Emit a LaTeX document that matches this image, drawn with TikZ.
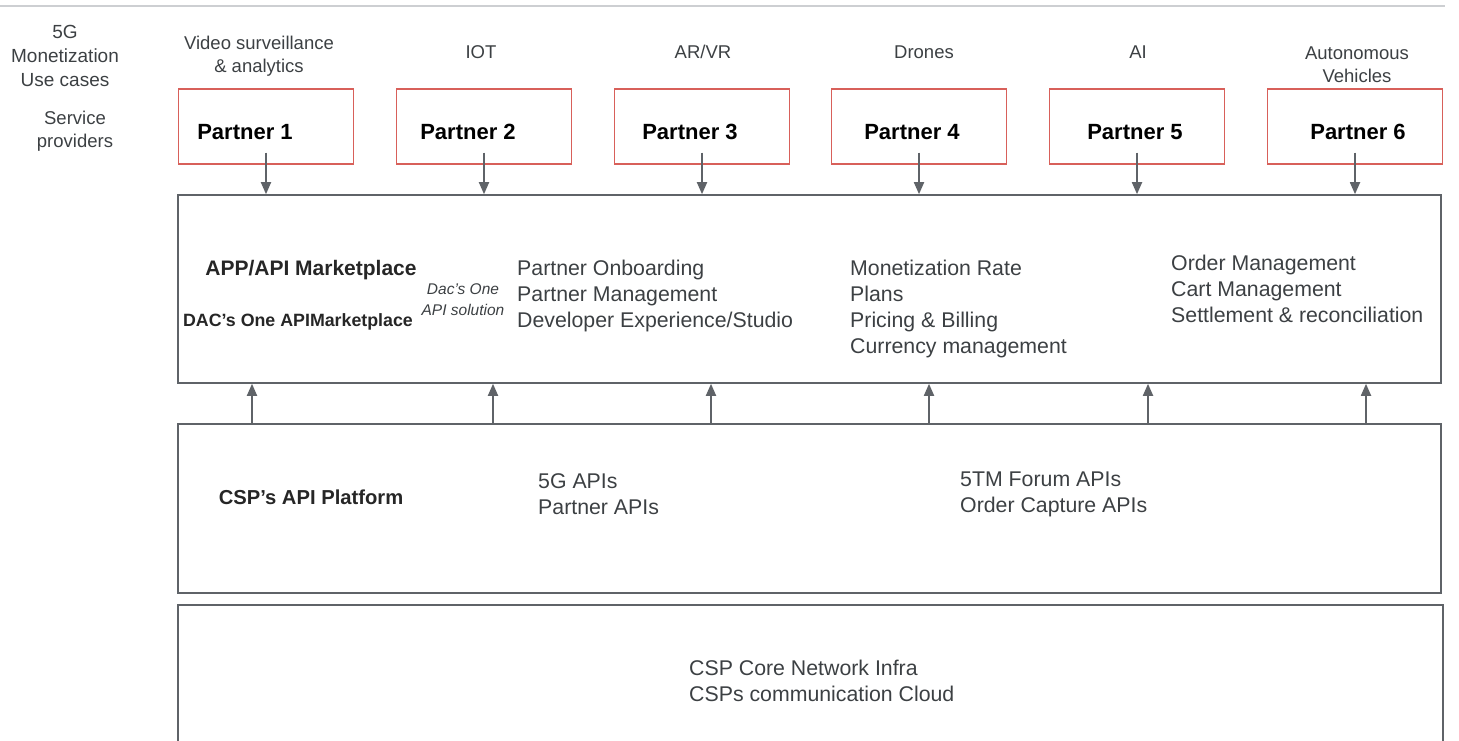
\documentclass[tikz,border=0pt]{standalone}
\usepackage{fontspec}
\setmainfont{Liberation Sans}
\usetikzlibrary{arrows.meta, positioning}

\definecolor{boxgray}{HTML}{5F6368}
\definecolor{txtgray}{HTML}{3C4043}
\definecolor{partnerred}{HTML}{D8605A}
\definecolor{rulegray}{HTML}{CDCFD2}

\begin{document}
\begin{tikzpicture}[x=1pt, y=-1pt,
    pbox/.style={draw=partnerred, line width=1.4pt, minimum width=175pt, minimum height=75pt, inner sep=0pt},
    layer/.style={draw=boxgray, line width=1.6pt, minimum width=1263pt, inner sep=0pt},
    plabel/.style={font=\fontsize{22}{26}\selectfont\bfseries, text=black},
    usecase/.style={font=\fontsize{18.5}{23}\selectfont, text=txtgray, align=center},
    feat/.style={font=\fontsize{21.3}{26}\selectfont, text=txtgray, align=left, anchor=north west, inner sep=0pt},
    title/.style={font=\fontsize{21}{24}\selectfont\bfseries, text=black!85},
    arr/.style={draw=boxgray, line width=1.8pt, -{Triangle[length=12pt, width=10pt]}}]
    \useasboundingbox (0,0) rectangle (1459,741);
    \draw[rulegray, line width=1.5pt] (0,6) -- (1445,6);

    % row labels
    \node[usecase, font=\fontsize{19}{24}\selectfont] (uc) at (65,56) {5G\\Monetization\\Use cases};
    \node[usecase] (sp) at (75,131) {Service\\providers};

    % use cases
    \node[usecase] (u1) at (259,56) {Video surveillance\\\& analytics};
    \node[usecase] (u2) at (481,52) {IOT};
    \node[usecase] (u3) at (703,52) {AR/VR};
    \node[usecase] (u4) at (924,52) {Drones};
    \node[usecase] (u5) at (1138,52) {AI};
    \node[usecase] (u6) at (1357,65) {Autonomous\\Vehicles};

    % partners
    \node[pbox] (p1) at (266,126.5) {};
    \node[pbox] (p2) at (484,126.5) {};
    \node[pbox] (p3) at (702,126.5) {};
    \node[pbox] (p4) at (919,126.5) {};
    \node[pbox] (p5) at (1137,126.5) {};
    \node[pbox] (p6) at (1355,126.5) {};
    \node[plabel] (l1) at (245,132) {Partner 1};
    \node[plabel] (l2) at (468,132) {Partner 2};
    \node[plabel] (l3) at (690,132) {Partner 3};
    \node[plabel] (l4) at (912,132) {Partner 4};
    \node[plabel] (l5) at (1135,132) {Partner 5};
    \node[plabel] (l6) at (1358,132) {Partner 6};

    % layers
    \node[layer, minimum height=188pt] (market) at (809.5,289) {};
    \node[layer, minimum height=169pt] (platform) at (809.5,508.5) {};
    \draw[boxgray, line width=1.6pt] (178,745) |- (1443,605) -- (1443,745);

    % marketplace
    \node[title] (mk) at (311,270) {APP/API Marketplace};
    \node[title, font=\fontsize{17.8}{20}\selectfont\bfseries] (dac) at (298,322) {DAC's One APIMarketplace};
    \node[font=\fontsize{15.5}{21}\selectfont\itshape, text=txtgray, align=center] (sol) at (463,300) {Dac's One\\API solution};
    \node[feat] (f1) at (517,260) {Partner Onboarding\\Partner Management\\Developer Experience/Studio};
    \node[feat] (f2) at (850,260) {Monetization Rate\\Plans\\Pricing \& Billing\\Currency management};
    \node[feat] (f3) at (1171,255) {Order Management\\Cart Management\\Settlement \& reconciliation};

    % platform
    \node[title, font=\fontsize{20.2}{24}\selectfont\bfseries] (csp) at (311,497) {CSP's API Platform};
    \node[feat] (a1) at (538,473) {5G APIs\\Partner APIs};
    \node[feat] (a2) at (960,472) {5TM Forum APIs\\Order Capture APIs};

    % core
    \node[feat] (core) at (689,660) {CSP Core Network Infra\\CSPs communication Cloud};

    % arrows
    \foreach \p in {p1,p2,p3,p4,p5,p6}
        \draw[arr] ([yshift=12pt]\p.south) -- (\p |- market.north);
    \foreach \x in {252,493,711,929,1148,1366}
        \draw[arr] (platform.north -| \x,0) -- (market.south -| \x,0);
\end{tikzpicture}
\end{document}
